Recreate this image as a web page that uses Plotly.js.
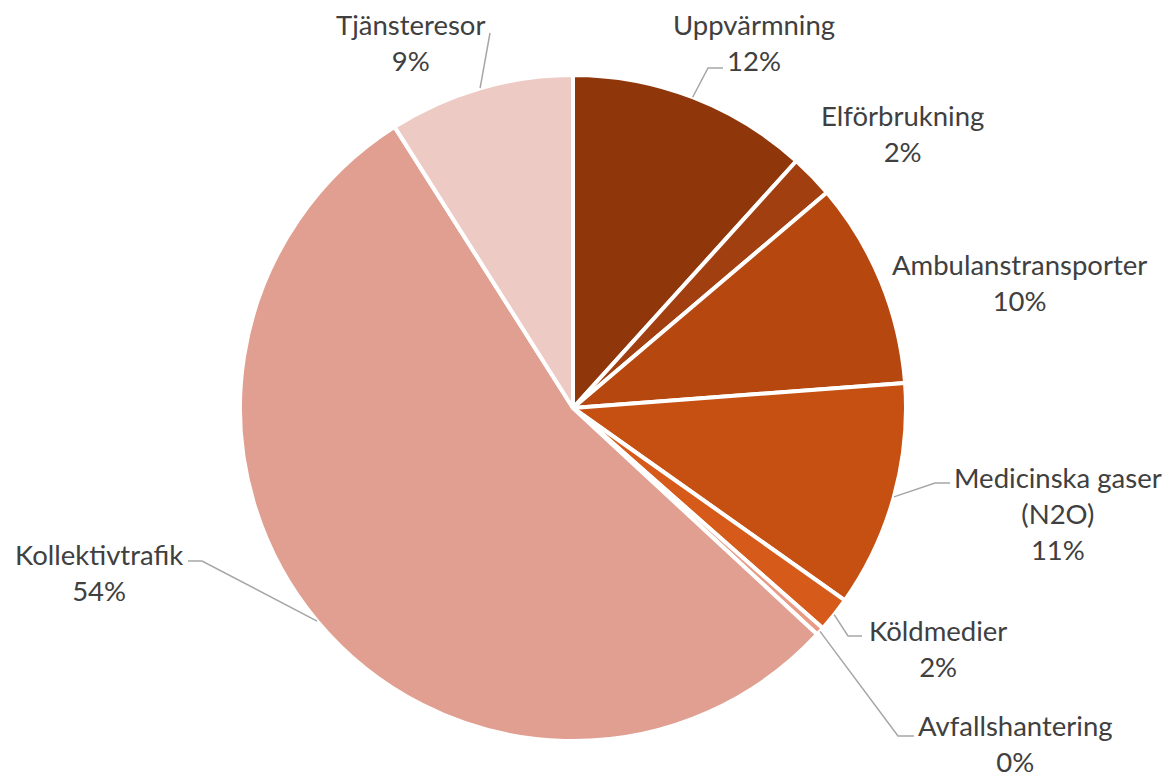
<!DOCTYPE html>
<html>
<head>
<meta charset="utf-8">
<script src="https://cdn.plot.ly/plotly-3.0.1.min.js"></script>
<style>html,body{margin:0;padding:0;background:#fff;}#chart{width:1170px;height:779px;}</style>
</head>
<body>
<div id="chart"></div>
<script>
// ---- Data ----
const categories = ["Uppvärmning", "Elförbrukning", "Ambulanstransporter", "Medicinska gaser (N2O)", "Köldmedier", "Avfallshantering", "Kollektivtrafik", "Tjänsteresor"];
const labelLines = ["Uppvärmning", "Elförbrukning", "Ambulanstransporter", "Medicinska gaser<br>(N2O)", "Köldmedier", "Avfallshantering", "Kollektivtrafik", "Tjänsteresor"];
const shares = [11.7, 2.1, 10.0, 11.0, 1.7, 0.4, 54.1, 9.0];
const colors = ["#8F370B", "#A13F10", "#B5470F", "#C55012", "#D65A1A", "#E99A84", "#E09F91", "#EDCAC3"];

// ---- Layout constants (pixels) ----
const W = 1170, H = 779;
const CX = 573, CY = 408, R = 333;
// label block centres
const labelPos = [[754, 42], [902, 133], [1019, 282], [1058, 513], [938, 648], [1015, 743], [99, 572], [410, 42]];
// leader polyline points after the pie edge point (null = no leader)
const leaderPts = [
  [[708, 68], [723, 68]],
  null,
  null,
  [[935, 483], [950, 483]],
  [[848, 636], [862, 636]],
  [[898, 736], [914, 736]],
  [[202, 561], [188, 561]],
  [[490, 33]]
];

const px = x => x / W;
const py = y => 1 - y / H;

const total = shares.reduce((a, b) => a + b, 0);
const annotations = [];
const shapes = [];
let cum = 0;
shares.forEach((v, i) => {
  const mid = (cum + v / 2) / total * 2 * Math.PI;
  cum += v;
  const ex = CX + R * Math.sin(mid);
  const ey = CY - R * Math.cos(mid);
  const pct = Math.round(v / total * 100);
  annotations.push({
    x: px(labelPos[i][0]), y: py(labelPos[i][1]), xref: "paper", yref: "paper",
    xanchor: "center", yanchor: "middle", showarrow: false, align: "center",
    borderpad: 0,
    text: labelLines[i] + "<br>" + pct + "%",
    font: {family: "Lato, 'Open Sans', sans-serif", size: 27.5, color: "#404040"}
  });
  if (leaderPts[i]) {
    let path = "M " + px(ex) + " " + py(ey);
    leaderPts[i].forEach(p => { path += " L " + px(p[0]) + " " + py(p[1]); });
    shapes.push({type: "path", xref: "paper", yref: "paper", path: path,
      line: {color: "#A6A6A6", width: 1.5}});
  }
});

const trace = {
  type: "pie",
  labels: categories,
  values: shares,
  sort: false,
  direction: "clockwise",
  rotation: 0,
  textinfo: "none",
  hoverinfo: "label+percent",
  marker: {colors: colors, line: {color: "#FFFFFF", width: 4}},
  domain: {x: [px(CX - R), px(CX + R)], y: [py(CY + R), py(CY - R)]},
  showlegend: false
};

const layout = {
  width: W, height: H,
  margin: {l: 0, r: 0, t: 0, b: 0},
  paper_bgcolor: "#FFFFFF",
  plot_bgcolor: "#FFFFFF",
  showlegend: false,
  annotations: annotations,
  shapes: shapes
};

Plotly.newPlot("chart", [trace], layout, {displayModeBar: false, staticPlot: true});
</script>
</body>
</html>
